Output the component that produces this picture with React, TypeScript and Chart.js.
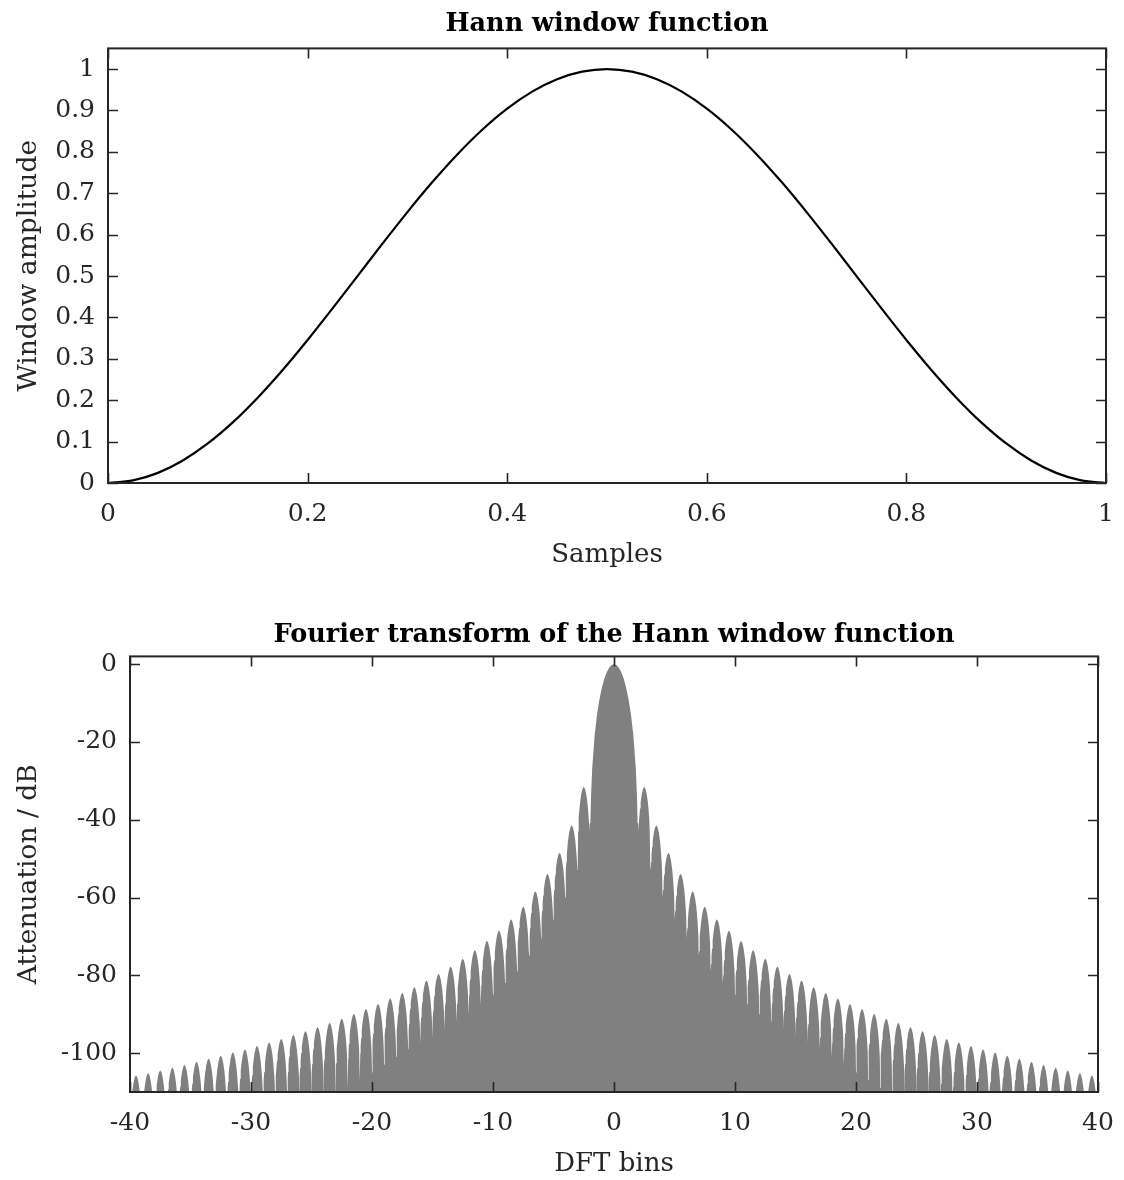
import React, { useEffect, useRef } from 'react';
import { Chart, registerables } from 'chart.js';

Chart.register(...registerables);

const FONT = "'DejaVu Serif', 'Liberation Serif', serif";
const TEXT = '#262626';
const FILL = '#808080';

// ---------- Top plot: Hann window ----------
const hannSamples = [0, 0.025, 0.05, 0.075, 0.1, 0.125, 0.15, 0.175, 0.2, 0.225, 0.25, 0.275, 0.3, 0.325, 0.35, 0.375, 0.4, 0.425, 0.45, 0.475, 0.5,
  0.525, 0.55, 0.575, 0.6, 0.625, 0.65, 0.675, 0.7, 0.725, 0.75, 0.775, 0.8, 0.825, 0.85, 0.875, 0.9, 0.925, 0.95, 0.975, 1];
const hannAmplitude = [0, 0.0062, 0.0245, 0.0545, 0.0955, 0.1464, 0.2061, 0.273, 0.3455, 0.4218, 0.5, 0.5782, 0.6545, 0.727, 0.7939, 0.8536, 0.9045, 0.9455, 0.9755, 0.9938, 1,
  0.9938, 0.9755, 0.9455, 0.9045, 0.8536, 0.7939, 0.727, 0.6545, 0.5782, 0.5, 0.4218, 0.3455, 0.273, 0.2061, 0.1464, 0.0955, 0.0545, 0.0245, 0.0062, 0];
const hannXTicks = [0, 0.2, 0.4, 0.6, 0.8, 1];
const hannXTickLabels = ['0', '0.2', '0.4', '0.6', '0.8', '1'];
const hannYTicks = [0, 0.1, 0.2, 0.3, 0.4, 0.5, 0.6, 0.7, 0.8, 0.9, 1];
const hannYTickLabels = ['0', '0.1', '0.2', '0.3', '0.4', '0.5', '0.6', '0.7', '0.8', '0.9', '1'];

// ---------- Bottom plot: spectrum of the Hann window ----------
const mainLobeBins = [-1.95, -1.9, -1.8, -1.6, -1.4, -1.2, -1, -0.8, -0.6, -0.4, -0.2, 0, 0.2, 0.4, 0.6, 0.8, 1, 1.2, 1.4, 1.6, 1.8, 1.9, 1.95];
const mainLobeDb = [-40.8, -34.0, -26.7, -18.3, -12.9, -9.0, -6.0, -3.75, -2.07, -0.91, -0.22, 0, -0.22, -0.91, -2.07, -3.75, -6.0, -9.0, -12.9, -18.3, -26.7, -34.0, -40.8];
const sidelobeBins = [2.5, 3.5, 4.5, 5.5, 6.5, 7.5, 8.5, 9.5, 10.5, 11.5, 12.5, 13.5, 14.5, 15.5, 16.5, 17.5, 18.5, 19.5, 20.5, 21.5, 22.5, 23.5, 24.5, 25.5, 26.5, 27.5, 28.5, 29.5, 30.5, 31.5, 32.5, 33.5, 34.5, 35.5, 36.5, 37.5, 38.5, 39.5];
const sidelobePeakDb = [-31.5, -41.4, -48.5, -53.9, -58.4, -62.3, -65.6, -68.5, -71.1, -73.5, -75.7, -77.7, -79.6, -81.3, -83.0, -84.5, -85.9, -87.3, -88.6, -89.9, -91.1, -92.2, -93.3, -94.3, -95.3, -96.3, -97.2, -98.1, -99.0, -99.8, -100.6, -101.4, -102.2, -103.0, -103.7, -104.4, -105.1, -105.7];
// visible depth of the notches between lobes, at bins 2, 3, ..., 40
const nullBins = [2, 3, 4, 5, 6, 7, 8, 9, 10, 11, 12, 13, 14, 15, 16, 17, 18, 19, 20, 21, 22, 23, 24, 25, 26, 27, 28, 29, 30, 31, 32, 33, 34, 35, 36, 37, 38, 39, 40];
const nullDepthDb = [-41, -52, -59.5, -66, -71, -75, -79, -82, -85, -87.5, -90, -92, -94, -96, -97.5, -99, -101, -103, -105, -107, -109, -112, -112, -112, -112, -112, -112, -112, -112, -112, -112, -112, -112, -112, -112, -112, -112, -112, -112];
// shape of one side lobe: distance from its notch (bins) and level below its peak (dB)
const lobeShapeOffset = [0.03, 0.06, 0.1, 0.15, 0.2, 0.3, 0.4, 0.5];
const lobeShapeDropDb = [-11.5, -9.5, -7.6, -5.6, -4.0, -1.8, -0.5, 0];
const dftXTicks = [-40, -30, -20, -10, 0, 10, 20, 30, 40];
const dftXTickLabels = ['-40', '-30', '-20', '-10', '0', '10', '20', '30', '40'];
const dftYTicks = [-100, -80, -60, -40, -20, 0];
const dftYTickLabels = ['-100', '-80', '-60', '-40', '-20', '0'];

type Pt = { x: number; y: number };

function lobeBody(centre: number, peak: number): Pt[] {
  const pts: Pt[] = [];
  for (let i = 0; i < lobeShapeOffset.length; i++) {
    pts.push({ x: centre - 0.5 + lobeShapeOffset[i], y: peak + lobeShapeDropDb[i] });
  }
  for (let i = lobeShapeOffset.length - 2; i >= 0; i--) {
    pts.push({ x: centre + 0.5 - lobeShapeOffset[i], y: peak + lobeShapeDropDb[i] });
  }
  return pts;
}

function buildSpectrum(): Pt[] {
  const pts: Pt[] = [];
  const n = sidelobeBins.length;
  pts.push({ x: -nullBins[n], y: nullDepthDb[n] });
  for (let k = n - 1; k >= 0; k--) {
    pts.push(...lobeBody(-sidelobeBins[k], sidelobePeakDb[k]));
    pts.push({ x: -nullBins[k], y: nullDepthDb[k] });
  }
  mainLobeBins.forEach((b, i) => pts.push({ x: b, y: mainLobeDb[i] }));
  pts.push({ x: nullBins[0], y: nullDepthDb[0] });
  for (let k = 0; k < n; k++) {
    pts.push(...lobeBody(sidelobeBins[k], sidelobePeakDb[k]));
    pts.push({ x: nullBins[k + 1], y: nullDepthDb[k + 1] });
  }
  return pts;
}

const TICK_LEN = 10;

const framePlugin = {
  id: 'matlabFrame',
  afterDraw(chart: any) {
    const { ctx, chartArea: a, scales } = chart;
    const xs = scales.x;
    const ys = scales.y;
    ctx.save();
    ctx.strokeStyle = TEXT;
    ctx.lineWidth = 1.6;
    ctx.beginPath();
    for (const t of xs.ticks) {
      const px = Math.round(xs.getPixelForValue(t.value)) + 0.5;
      ctx.moveTo(px, a.bottom);
      ctx.lineTo(px, a.bottom - TICK_LEN);
      ctx.moveTo(px, a.top);
      ctx.lineTo(px, a.top + TICK_LEN);
    }
    for (const t of ys.ticks) {
      const py = Math.round(ys.getPixelForValue(t.value)) + 0.5;
      ctx.moveTo(a.left, py);
      ctx.lineTo(a.left + TICK_LEN, py);
      ctx.moveTo(a.right, py);
      ctx.lineTo(a.right - TICK_LEN, py);
    }
    ctx.stroke();
    ctx.lineWidth = 2;
    ctx.strokeRect(a.left, a.top, a.right - a.left, a.bottom - a.top);
    ctx.restore();
  },
};

interface AxisSpec {
  min: number;
  max: number;
  ticks: number[];
  labels: string[];
  title: string;
}

function makeOptions(
  title: string,
  titlePad: { top: number; bottom: number },
  xSpec: AxisSpec,
  ySpec: AxisSpec,
  yWidth: number,
  xHeight: number,
  xTitlePadBottom: number,
  rightPad: number
): any {
  return {
    responsive: false,
    animation: false,
    events: [],
    layout: { padding: { left: 0, right: rightPad, top: 0, bottom: 0 } },
    plugins: {
      legend: { display: false },
      tooltip: { enabled: false },
      title: {
        display: true,
        text: title,
        fullSize: false,
        color: '#000000',
        font: { family: FONT, size: 25.5, weight: 'bold', lineHeight: 1.2 },
        padding: titlePad,
      },
    },
    scales: {
      x: {
        type: 'linear',
        position: 'bottom',
        min: xSpec.min,
        max: xSpec.max,
        grid: { display: false, drawTicks: false },
        border: { display: false },
        afterBuildTicks: (s: any) => {
          s.ticks = xSpec.ticks.map((v) => ({ value: v }));
        },
        afterFit: (s: any) => {
          s.height = xHeight;
          s.paddingLeft = 0;
          s.paddingRight = 0;
        },
        ticks: {
          autoSkip: false,
          maxRotation: 0,
          minRotation: 0,
          padding: 16.5,
          color: TEXT,
          font: { family: FONT, size: 25, lineHeight: 1.2 },
          callback: (_v: any, i: number) => xSpec.labels[i],
        },
        title: {
          display: true,
          text: xSpec.title,
          color: TEXT,
          font: { family: FONT, size: 26, lineHeight: 1.2 },
          padding: { top: 0, bottom: xTitlePadBottom },
        },
      },
      y: {
        type: 'linear',
        position: 'left',
        min: ySpec.min,
        max: ySpec.max,
        grid: { display: false, drawTicks: false },
        border: { display: false },
        afterBuildTicks: (s: any) => {
          s.ticks = ySpec.ticks.map((v) => ({ value: v }));
        },
        afterFit: (s: any) => {
          s.width = yWidth;
          s.paddingTop = 0;
          s.paddingBottom = 0;
        },
        ticks: {
          autoSkip: false,
          padding: 13,
          color: TEXT,
          font: { family: FONT, size: 25, lineHeight: 1.2 },
          callback: (_v: any, i: number) => ySpec.labels[i],
        },
        title: {
          display: true,
          text: ySpec.title,
          color: TEXT,
          font: { family: FONT, size: 26.5, lineHeight: 1.2 },
          padding: { top: 13, bottom: 0 },
        },
      },
    },
  };
}

export default function App() {
  const topRef = useRef<HTMLCanvasElement | null>(null);
  const bottomRef = useRef<HTMLCanvasElement | null>(null);

  useEffect(() => {
    const c1 = new Chart(topRef.current as HTMLCanvasElement, {
      type: 'line',
      data: {
        datasets: [
          {
            data: hannSamples.map((x, i) => ({ x, y: hannAmplitude[i] })),
            borderColor: '#000000',
            borderWidth: 2.2,
            pointRadius: 0,
            fill: false,
            cubicInterpolationMode: 'monotone',
          },
        ],
      },
      options: makeOptions(
        'Hann window function',
        { top: 9.4, bottom: 8.4 },
        { min: 0, max: 1, ticks: hannXTicks, labels: hannXTickLabels, title: 'Samples' },
        { min: 0, max: 1.05, ticks: hannYTicks, labels: hannYTickLabels, title: 'Window amplitude' },
        108,
        107,
        19.6,
        18
      ),
      plugins: [framePlugin],
    } as any);

    const c2 = new Chart(bottomRef.current as HTMLCanvasElement, {
      type: 'line',
      data: {
        datasets: [
          {
            data: buildSpectrum(),
            borderColor: 'rgba(0,0,0,0)',
            borderWidth: 0,
            backgroundColor: FILL,
            pointRadius: 0,
            fill: 'start',
            tension: 0,
          },
        ],
      },
      options: makeOptions(
        'Fourier transform of the Hann window function',
        { top: 30.4, bottom: 5.4 },
        { min: -40, max: 40, ticks: dftXTicks, labels: dftXTickLabels, title: 'DFT bins' },
        { min: -110, max: 2, ticks: dftYTicks, labels: dftYTickLabels, title: 'Attenuation / dB' },
        130,
        88,
        0,
        26
      ),
      plugins: [framePlugin],
    } as any);

    return () => {
      c1.destroy();
      c2.destroy();
    };
  }, []);

  return (
    <div style={{ position: 'absolute', left: 0, top: 0, width: 1124, height: 1180, background: '#ffffff' }}>
      <canvas ref={topRef} width={1124} height={590} style={{ position: 'absolute', left: 0, top: 0, width: 1124, height: 590 }} />
      <canvas ref={bottomRef} width={1124} height={590} style={{ position: 'absolute', left: 0, top: 590, width: 1124, height: 590 }} />
    </div>
  );
}
